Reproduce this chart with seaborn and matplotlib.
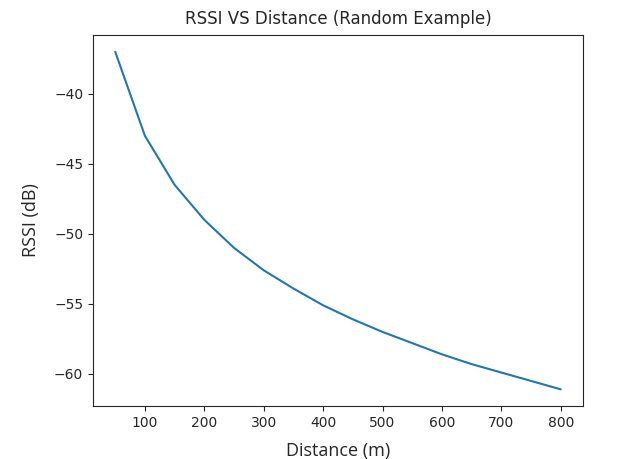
import matplotlib
matplotlib.use('Agg')
import matplotlib.pyplot as plt
import seaborn as sns
import pandas as pd

# values
distance = [50, 100, 150, 200, 250, 300, 350, 400, 450, 500, 550, 600, 650, 700, 750, 800]
rssi = [-37.0, -43.0, -46.5, -49.0, -51.0, -52.6, -53.9, -55.1, -56.1, -57.0,
        -57.8, -58.6, -59.3, -59.9, -60.5, -61.1]

df = pd.DataFrame({'distance': distance, 'rssi': rssi})

sns.set_style('ticks')
plt.rcParams['font.family'] = ['DejaVu Sans']

fig = plt.figure(figsize=(6.41, 4.59), dpi=100)
ax = fig.add_axes([0.145, 0.115, 0.7645, 0.809])

sns.lineplot(data=df, x='distance', y='rssi', ax=ax, color='#1f77b4', linewidth=1.5)

ax.set_title('RSSI VS Distance (Random Example)', fontsize=12, pad=8)
ax.set_xlabel('Distance (m)', fontsize=13, family=['Open Sans', 'DejaVu Sans'], labelpad=9)
ax.set_ylabel('RSSI (dB)', fontsize=13, family=['Open Sans', 'DejaVu Sans'], labelpad=10)
ax.set_xticks([100, 200, 300, 400, 500, 600, 700, 800])
ax.set_yticks([-40, -45, -50, -55, -60])
ax.tick_params(labelsize=10)

fig.savefig('out.png', dpi=100)
